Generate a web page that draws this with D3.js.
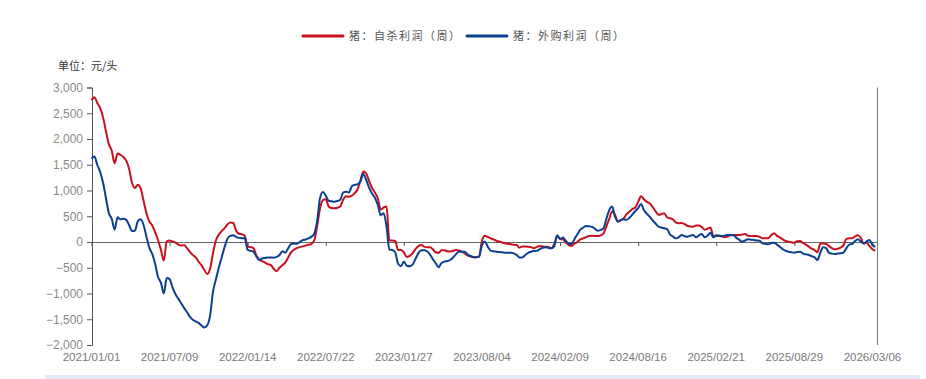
<!DOCTYPE html>
<html><head><meta charset="utf-8">
<script src="https://cdn.jsdelivr.net/npm/d3@7/dist/d3.min.js"></script>
<style>
html,body{margin:0;padding:0;background:#fff;}
svg{display:block;font-family:"Liberation Sans","Noto Sans CJK SC",sans-serif;}
</style></head>
<body><svg id="c" width="926" height="379"></svg>
<script>
const seriesNames = ["猪：自杀利润（周）", "猪：外购利润（周）"];
const seriesColors = ["#c8101e", "#0b3f91"];
const unitLabel = "单位：元/头";
const startDate = "2021-01-01";
const xTickLabels = ["2021/01/01","2021/07/09","2022/01/14","2022/07/22","2023/01/27","2023/08/04","2024/02/09","2024/08/16","2025/02/21","2025/08/29","2026/03/06"];
const yTicks = [3000,2500,2000,1500,1000,500,0,-500,-1000,-1500,-2000];

const selfProfit = [
2750,2810,2700,2600,2420,2150,1900,1770,1530,1720,
1690,1650,1580,1420,1150,1050,1110,1040,800,560,
400,320,190,40,-150,-360,10,30,10,-10,
-50,-70,-60,-120,-190,-250,-300,-380,-450,-540,
-620,-520,-220,30,140,210,270,340,380,370,
220,160,150,120,-90,-100,-120,-260,-340,-370,
-400,-430,-450,-520,-570,-500,-450,-400,-300,-200,
-150,-120,-100,-85,-70,-55,-40,30,300,650,
815,830,690,660,655,665,690,820,890,880,
900,950,1020,1200,1370,1330,1180,1050,960,850,
630,670,690,30,30,20,-155,-155,-200,-290,
-270,-220,-140,-80,-60,-90,-103,-103,-140,-200,
-210,-160,-160,-180,-185,-170,-155,-165,-185,-220,
-260,-280,-295,-297,-280,20,120,100,70,50,
25,10,-10,-25,-35,-45,-55,-60,-110,-85,
-85,-90,-100,-120,-95,-80,-85,-90,-95,-120,
-40,110,60,50,-10,-60,-75,-30,0,50,
70,95,115,120,118,115,130,165,300,450,
590,530,400,420,460,540,590,640,670,780,
890,830,780,750,680,600,530,540,560,480,
460,440,380,363,370,350,315,300,297,320,
320,290,240,260,280,117,117,117,105,92,
110,130,136,136,136,145,155,120,117,117,
117,100,71,71,71,130,169,120,91,50,
20,6,-5,-13,15,20,-20,-50,-91,-130,
-155,-200,-30,-30,-40,-80,-120,-142,-130,-110,
-60,60,71,71,110,130,80,-30,-13,-80,
-140,-170];

const buyProfit = [
1620,1660,1500,1360,1150,850,560,450,240,480,
440,450,430,330,213,220,400,440,330,100,
-110,-230,-420,-680,-790,-1000,-700,-720,-880,-1010,
-1100,-1190,-1280,-1360,-1450,-1510,-1540,-1570,-1620,-1660,
-1620,-1430,-970,-730,-500,-300,-100,60,120,130,
100,80,75,71,-155,-170,-188,-280,-350,-320,
-310,-300,-300,-304,-290,-252,-180,-210,-120,-40,
-30,-35,0,35,50,70,100,160,400,850,
970,900,800,790,783,795,820,960,975,960,
1080,1110,1120,1180,1320,1200,1050,940,860,720,
520,560,300,-150,-155,-200,-420,-470,-380,-460,
-470,-440,-330,-220,-160,-160,-180,-240,-330,-410,
-490,-410,-380,-370,-350,-300,-240,-190,-188,-190,
-240,-270,-290,-297,-285,-60,10,-90,-168,-180,
-188,-195,-200,-207,-207,-207,-220,-250,-300,-300,
-252,-210,-188,-175,-170,-140,-110,-103,-115,-122,
-80,130,60,85,20,-30,-39,60,150,240,
280,311,305,297,260,220,235,260,450,620,
690,491,394,430,440,430,470,530,600,660,
738,621,550,491,420,360,300,280,266,250,
150,110,71,90,136,115,103,120,136,91,
130,155,91,120,181,91,130,125,117,125,
136,136,130,80,40,6,30,52,45,39,
30,25,-26,-35,-45,-20,-13,-50,-91,-140,
-170,-188,-200,-207,-195,-190,-225,-240,-252,-275,
-297,-350,-207,-103,-120,-210,-225,-233,-225,-220,
-207,-120,-50,-39,20,52,6,-26,10,39,
-58,-91];

const parse = d3.timeParse("%Y-%m-%d");
const t0 = parse(startDate);
const dates = selfProfit.map((_, i) => d3.timeDay.offset(t0, i * 7));
const parseTick = d3.timeParse("%Y/%m/%d");

const svg = d3.select("#c");
const x = d3.scaleTime().domain([t0, dates[dates.length - 1]]).range([91.5, 875.3]);
const y = d3.scaleLinear().domain([-2000, 3000]).range([345, 87.5]);
const xRight = 877.5;

// y axis
const yAxis = svg.append("g").attr("transform", "translate(92,0)")
  .call(d3.axisLeft(y).tickValues(yTicks).tickSize(5).tickPadding(4)
    .tickFormat(d => d3.format(",")(d).replace("-", "−")));
yAxis.select(".domain").attr("stroke", "#555");
yAxis.selectAll(".tick line").attr("stroke", "#555");
yAxis.selectAll(".tick text").attr("fill", "#8a8a8a").attr("font-size", 12);

// right border line
svg.append("line").attr("x1", xRight).attr("x2", xRight).attr("y1", y(3000)).attr("y2", y(-2000))
  .attr("stroke", "#777").attr("stroke-width", 1);

// zero axis with ticks
const xAxis = svg.append("g").attr("transform", `translate(0,${y(0)})`)
  .call(d3.axisBottom(x).tickValues(xTickLabels.map(parseTick)).tickSize(4).tickFormat(""));
xAxis.select(".domain").attr("d", `M91.5,0.5H${xRight}`).attr("stroke", "#666");
xAxis.selectAll(".tick line").attr("stroke", "#555");

// bottom labels
svg.append("g").selectAll("text").data(xTickLabels).join("text")
  .attr("x", d => x(parseTick(d))).attr("y", 361)
  .attr("text-anchor", "middle").attr("fill", "#7a7a7a").attr("font-size", 11.5)
  .text(d => d);

// lines
const line = d3.line().x((d, i) => x(dates[i])).y(d => y(d)).curve(d3.curveMonotoneX);
[selfProfit, buyProfit].forEach((s, k) => {
  svg.append("path").datum(s).attr("d", line).attr("fill", "none")
    .attr("stroke", seriesColors[k]).attr("stroke-width", 2).attr("stroke-linejoin", "round");
});

// unit label
svg.append("text").attr("x", 58).attr("y", 70).attr("font-size", 11).attr("fill", "#333")
  .attr("font-family", "Noto Sans CJK SC").text(unitLabel);

// legend
const legendX = [303, 467];
seriesNames.forEach((n, k) => {
  const g = svg.append("g").attr("transform", `translate(${legendX[k]},36)`);
  g.append("line").attr("x1", 0).attr("x2", 40).attr("y1", 0).attr("y2", 0)
    .attr("stroke", seriesColors[k]).attr("stroke-width", 3).attr("stroke-linecap", "round");
  g.append("text").attr("x", 46).attr("y", 4).attr("font-size", 11).attr("fill", "#555")
    .attr("font-family", "Noto Sans CJK SC").attr("letter-spacing", 1.5).text(n);
});

// bottom band
svg.append("rect").attr("x", 45).attr("y", 375).attr("width", 875).attr("height", 4).attr("fill", "#e2e8f4");
</script></body></html>
